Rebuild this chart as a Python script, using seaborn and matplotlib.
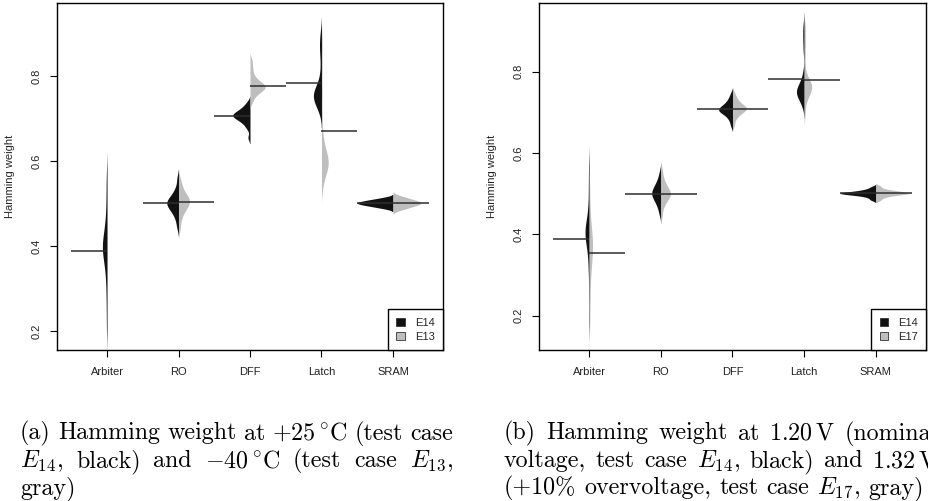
import numpy as np
import pandas as pd
import matplotlib
matplotlib.use("Agg")
import matplotlib.pyplot as plt
from matplotlib.patches import Patch
import seaborn as sns

# ---------------- data ----------------
CATEGORIES = ["Arbiter", "RO", "DFF", "Latch", "SRAM"]
Y_TICKS = [0.2, 0.4, 0.6, 0.8]
Y_TICK_LABELS = ["0.2", "0.4", "0.6", "0.8"]

# panel (a): E14 (+25 C, black) and E13 (-40 C, gray) -- per-device Hamming weights
A_E14_ARBITER = [0.21, 0.26, 0.30, 0.33, 0.35, 0.365, 0.375, 0.385, 0.39, 0.395,
                 0.40, 0.405, 0.41, 0.42, 0.43, 0.445, 0.46, 0.49, 0.525, 0.565]
A_E14_RO = [0.4446, 0.4606, 0.4705, 0.4779, 0.4828, 0.4865, 0.4902, 0.4938, 0.4975, 0.5000,
            0.5012, 0.5037, 0.5062, 0.5098, 0.5135, 0.5172, 0.5221, 0.5295, 0.5394, 0.5590]
A_E14_DFF = [0.655, 0.676, 0.684, 0.690, 0.694, 0.697, 0.700, 0.702, 0.704, 0.706,
             0.707, 0.709, 0.711, 0.713, 0.715, 0.718, 0.721, 0.725, 0.730, 0.738]
A_E14_LATCH = [0.716, 0.727, 0.734, 0.739, 0.743, 0.747, 0.750, 0.753, 0.756, 0.759,
               0.763, 0.767, 0.772, 0.778, 0.790, 0.815, 0.845, 0.865, 0.880, 0.900]
A_E14_SRAM = [0.4878, 0.4906, 0.4925, 0.4941, 0.4954, 0.4966, 0.4977, 0.4987, 0.4997, 0.5006,
              0.5014, 0.5023, 0.5033, 0.5043, 0.5054, 0.5066, 0.5079, 0.5095, 0.5114, 0.5142]

A_E13_ARBITER = []
A_E13_RO = [0.4398, 0.4583, 0.4703, 0.4790, 0.4845, 0.4888, 0.4932, 0.4965, 0.4997, 0.5030,
            0.5052, 0.5074, 0.5106, 0.5139, 0.5172, 0.5215, 0.5270, 0.5335, 0.5433, 0.5564]
A_E13_DFF = [0.7394, 0.7502, 0.7567, 0.7610, 0.7643, 0.7675, 0.7697, 0.7718, 0.7729, 0.7751,
             0.7772, 0.7794, 0.7816, 0.7848, 0.7880, 0.7924, 0.7988, 0.8086, 0.8215, 0.8366]
A_E13_LATCH = [0.547, 0.562, 0.572, 0.580, 0.585, 0.589, 0.592, 0.596, 0.600, 0.604,
               0.608, 0.613, 0.619, 0.628, 0.641, 0.661, 0.700, 0.760, 0.820, 0.875]
A_E13_SRAM = [0.4841, 0.4876, 0.4901, 0.4921, 0.4938, 0.4954, 0.4968, 0.4981, 0.4993, 0.5005,
              0.5015, 0.5027, 0.5039, 0.5052, 0.5066, 0.5082, 0.5099, 0.5119, 0.5144, 0.5179]

A_E14_MEANS = [0.389, 0.500, 0.706, 0.784, 0.502]
A_E13_MEANS = [None, 0.503, 0.776, 0.670, 0.501]

# panel (b): E14 (1.20 V, black) and E17 (1.32 V, gray)
B_E14_ARBITER = [0.19, 0.25, 0.30, 0.33, 0.355, 0.37, 0.38, 0.39, 0.395, 0.40,
                 0.405, 0.41, 0.415, 0.42, 0.43, 0.44, 0.46, 0.49, 0.525, 0.565]
B_E14_RO = [0.450, 0.463, 0.472, 0.478, 0.483, 0.487, 0.491, 0.494, 0.497, 0.500,
            0.502, 0.505, 0.508, 0.511, 0.515, 0.519, 0.524, 0.530, 0.538, 0.552]
B_E14_DFF = [0.668, 0.680, 0.687, 0.692, 0.696, 0.699, 0.701, 0.703, 0.705, 0.706,
             0.708, 0.710, 0.712, 0.714, 0.717, 0.720, 0.724, 0.729, 0.735, 0.745]
B_E14_LATCH = [0.715, 0.726, 0.733, 0.738, 0.742, 0.745, 0.748, 0.750, 0.752, 0.755,
               0.758, 0.762, 0.767, 0.773, 0.781, 0.800, 0.850, 0.875, 0.895, 0.915]
B_E14_SRAM = [0.4842, 0.4890, 0.4926, 0.4950, 0.4962, 0.4974, 0.4986, 0.4998, 0.4998, 0.5010,
              0.5010, 0.5022, 0.5022, 0.5034, 0.5046, 0.5058, 0.5070, 0.5094, 0.5118, 0.5166]

B_E17_ARBITER = [0.18, 0.22, 0.255, 0.285, 0.305, 0.32, 0.332, 0.343, 0.353, 0.362,
                 0.369, 0.376, 0.382, 0.388, 0.395, 0.405, 0.418, 0.44, 0.47, 0.52]
B_E17_RO = [0.446, 0.464, 0.474, 0.480, 0.485, 0.489, 0.492, 0.495, 0.498, 0.500,
            0.502, 0.505, 0.508, 0.511, 0.515, 0.520, 0.525, 0.532, 0.542, 0.559]
B_E17_DFF = [0.669, 0.682, 0.690, 0.694, 0.698, 0.701, 0.703, 0.706, 0.707, 0.709,
             0.711, 0.712, 0.714, 0.716, 0.719, 0.722, 0.726, 0.731, 0.737, 0.747]
B_E17_LATCH = [0.695, 0.725, 0.735, 0.742, 0.748, 0.752, 0.756, 0.759, 0.762, 0.765,
               0.768, 0.771, 0.775, 0.779, 0.785, 0.800, 0.830, 0.860, 0.885, 0.910]
B_E17_SRAM = [0.4836, 0.4890, 0.4923, 0.4945, 0.4966, 0.4977, 0.4988, 0.4999, 0.4999, 0.5010,
              0.5010, 0.5021, 0.5032, 0.5043, 0.5054, 0.5065, 0.5075, 0.5097, 0.5130, 0.5184]

B_E14_MEANS = [0.389, 0.500, 0.707, 0.783, 0.502]
B_E17_MEANS = [0.354, 0.500, 0.709, 0.780, 0.501]

# ---------------- style ----------------
W_PX, H_PX = 929, 501
sns.set_theme(style="ticks")
plt.rcParams["font.family"] = ["Liberation Sans", "DejaVu Sans"]
plt.rcParams["mathtext.fontset"] = "cm"
BLACK = "#121212"
GRAY = "#bebebe"
LINE = "#2e2e2e"


def nrd0(kde):
    """R's default density bandwidth (bw.nrd0), returned as a scipy factor."""
    x = np.asarray(kde.dataset).ravel()
    sd = x.std(ddof=1)
    q25, q75 = np.percentile(x, [25, 75])
    lo = min(sd, (q75 - q25) / 1.34)
    if lo <= 0:
        lo = sd
    return 0.9 * lo * len(x) ** -0.2 / sd


def long_frame(cases):
    rows = []
    for case, series in cases.items():
        for cat, vals in zip(CATEGORIES, series):
            for v in vals:
                rows.append({"device": cat, "case": case, "hw": v})
    return pd.DataFrame(rows)


def panel(fig, rect, cases, means, ylim):
    ax = fig.add_axes(rect)
    df = long_frame(cases)
    names = list(cases.keys())
    pal = {names[0]: BLACK, names[1]: GRAY}
    sns.violinplot(data=df, x="device", y="hw", hue="case", order=CATEGORIES,
                   hue_order=names, split=True, inner=None, palette=pal,
                   saturation=1, linewidth=0, density_norm="area",
                   common_norm=True, bw_method=nrd0, cut=2, gridsize=400,
                   width=1.0, gap=0, legend=False, ax=ax)
    # bean lines (means), one per half
    for k, name in enumerate(names):
        for i, m in enumerate(means[name]):
            if m is None:
                continue
            x0, x1 = (i - 0.5, i) if k == 0 else (i, i + 0.5)
            ax.hlines(m, x0, x1, color=LINE, lw=1.1, zorder=4)
    ax.set_xlim(-0.7, 4.7)
    ax.set_ylim(*ylim)
    ax.set_yticks(Y_TICKS)
    ax.set_yticklabels(Y_TICK_LABELS, rotation=90, va="center")
    ax.set_xlabel("")
    ax.set_ylabel("Hamming weight", fontsize=8, labelpad=12)
    ax.tick_params(axis="both", length=5, width=0.8, color="black",
                   labelsize=8, labelcolor="#222222")
    ax.tick_params(axis="x", pad=7)
    ax.tick_params(axis="y", pad=6)
    for s in ax.spines.values():
        s.set_visible(True)
        s.set_color("black")
        s.set_linewidth(1.0)
    handles = [Patch(facecolor=BLACK, edgecolor="#333333", lw=0.6, label=names[0]),
               Patch(facecolor=GRAY, edgecolor="#333333", lw=0.6, label=names[1])]
    leg = ax.legend(handles=handles, loc="lower right", borderaxespad=0,
                    fancybox=False, framealpha=1, edgecolor="black", fontsize=8,
                    handlelength=0.75, handleheight=0.75, handletextpad=0.9,
                    labelspacing=0.35, borderpad=0.75)
    leg.get_frame().set_linewidth(1.0)
    return ax


fig = plt.figure(figsize=(W_PX / 100, H_PX / 100), dpi=100)

bottom = (H_PX - 350) / H_PX
height = 346.7 / H_PX
panel(fig, [57 / W_PX, bottom, 386 / W_PX, height],
      {"E14": [A_E14_ARBITER, A_E14_RO, A_E14_DFF, A_E14_LATCH, A_E14_SRAM],
       "E13": [A_E13_ARBITER, A_E13_RO, A_E13_DFF, A_E13_LATCH, A_E13_SRAM]},
      {"E14": A_E14_MEANS, "E13": A_E13_MEANS}, (0.155, 0.971))
panel(fig, [539 / W_PX, bottom, 387 / W_PX, height],
      {"E14": [B_E14_ARBITER, B_E14_RO, B_E14_DFF, B_E14_LATCH, B_E14_SRAM],
       "E17": [B_E17_ARBITER, B_E17_RO, B_E17_DFF, B_E17_LATCH, B_E17_SRAM]},
      {"E14": B_E14_MEANS, "E17": B_E17_MEANS}, (0.1156, 0.968))

# ---------------- captions ----------------
CAP_FS = 17.3
renderer = fig.canvas.get_renderer()


def caption_line(words, x0, x1, y, justify=True):
    texts = [fig.text(0, 1 - y / H_PX, w, fontsize=CAP_FS, family="cmr10",
                      va="baseline", ha="left", color="black") for w in words]
    widths = [t.get_window_extent(renderer).width for t in texts]
    if justify and len(texts) > 1:
        gap = (x1 - x0 - sum(widths)) / (len(texts) - 1)
    else:
        gap = CAP_FS * 100 / 72 * 0.333
    x = x0
    for t, w in zip(texts, widths):
        t.set_x(x / W_PX)
        x += w + gap


CAP_A = [["(a)", "Hamming", "weight", "at", r"$+25\,{}^{\circ}$C", "(test", "case"],
         [r"$E_{14}$,", "black)", "and", r"$-40\,{}^{\circ}$C", "(test", "case", r"$E_{13}$,"],
         ["gray)"]]
CAP_B = [["(b)", "Hamming", "weight", "at", r"1.20$\,$V", "(nominal"],
         ["voltage,", "test", "case", r"$E_{14}$,", "black)", "and", r"1.32$\,$V"],
         ["(+10%", "overvoltage,", "test", "case", r"$E_{17}$,", "gray)"]]
BASELINES = [439.5, 467.0, 494.0]
for i, (wa, wb) in enumerate(zip(CAP_A, CAP_B)):
    last = i == len(CAP_A) - 1
    caption_line(wa, 20, 453, BASELINES[i], justify=not last)
    caption_line(wb, 504, 938, BASELINES[i], justify=not last)

fig.savefig("out.png", dpi=100)
